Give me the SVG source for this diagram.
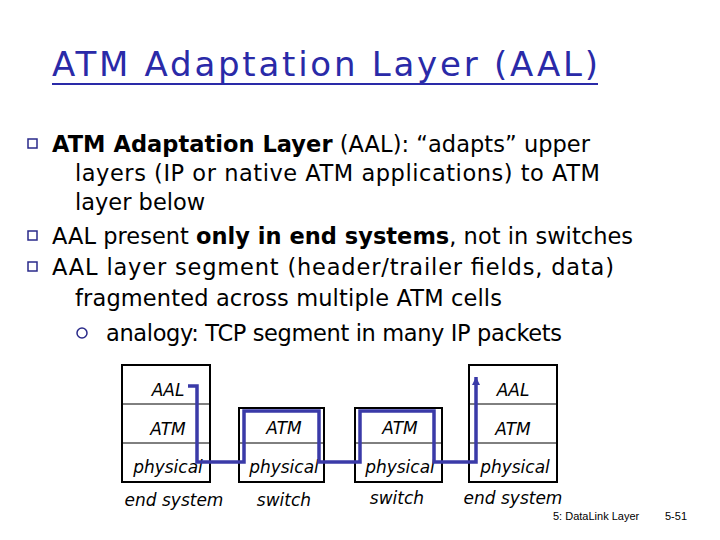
<svg xmlns="http://www.w3.org/2000/svg" width="720" height="540" viewBox="0 0 720 540">
<style>
.t{font-family:"DejaVu Sans",sans-serif;font-size:22.5px;fill:#000}
.b{font-weight:bold}
.l{font-family:"DejaVu Sans",sans-serif;font-size:17px;font-style:italic;fill:#000;text-anchor:middle}
.box{fill:none;stroke:#000;stroke-width:2}
.div{stroke:#000;stroke-width:1}
.bul{fill:none;stroke:#2a2a8a;stroke-width:1.5}
</style>
<defs><marker id="ar" markerWidth="10" markerHeight="10" refX="8" refY="4" orient="auto" markerUnits="userSpaceOnUse"><path d="M0,0 L8,4 L0,8 Z" fill="#3a3aa8"/></marker></defs>
<rect width="720" height="540" fill="#fff"/>
<g id="title"><text x="52" y="76" font-family="DejaVu Sans,sans-serif" font-size="34" fill="#2a2aa8" textLength="546">ATM Adaptation Layer (AAL)</text>
<line x1="52" y1="84" x2="598" y2="84" stroke="#2a2aa8" stroke-width="2"/></g>
<g id="bullets">
<rect x="28" y="139" width="9" height="9" class="bul"/>
<rect x="28" y="231" width="9" height="9" class="bul"/>
<rect x="28" y="262" width="9" height="9" class="bul"/>
<circle cx="82" cy="333" r="5" class="bul"/>
<text class="t" x="52" y="152" textLength="538"><tspan class="b">ATM Adaptation Layer</tspan> (AAL): “adapts” upper</text>
<text class="t" x="75" y="181" textLength="525">layers (IP or native ATM applications)  to ATM</text>
<text class="t" x="75" y="210">layer below</text>
<text class="t" x="52" y="244" textLength="581">AAL present <tspan class="b">only in end systems</tspan>, not in switches</text>
<text class="t" x="52" y="275" textLength="562">AAL layer segment (header/trailer fields, data)</text>
<text class="t" x="75" y="306" textLength="427">fragmented across multiple ATM cells</text>
<text class="t" x="106" y="341" textLength="456">analogy: TCP segment in many IP packets</text>
</g>
<g id="es1"><rect x="122" y="365" width="88" height="117" class="box"/>
<line x1="122" y1="404" x2="210" y2="404" class="div"/><line x1="122" y1="443" x2="210" y2="443" class="div"/>
<text class="l" x="168" y="396">AAL</text><text class="l" x="168" y="435">ATM</text><text class="l" x="168" y="473">physical</text>
<text class="l" x="174" y="506">end system</text></g>
<g id="sw1"><rect x="239" y="408" width="85" height="74" class="box"/>
<line x1="239" y1="443" x2="324" y2="443" class="div"/>
<text class="l" x="284" y="434">ATM</text><text class="l" x="284" y="473">physical</text>
<text class="l" x="284" y="506">switch</text></g>
<g id="sw2"><rect x="355" y="408" width="87" height="74" class="box"/>
<line x1="355" y1="443" x2="442" y2="443" class="div"/>
<text class="l" x="400" y="434">ATM</text><text class="l" x="400" y="473">physical</text>
<text class="l" x="397" y="504">switch</text></g>
<g id="es2"><rect x="469" y="365" width="88" height="117" class="box"/>
<line x1="469" y1="404" x2="557" y2="404" class="div"/><line x1="469" y1="443" x2="557" y2="443" class="div"/>
<text class="l" x="513" y="396">AAL</text><text class="l" x="513" y="435">ATM</text><text class="l" x="515" y="473">physical</text>
<text class="l" x="513" y="504">end system</text></g>
<g id="connectors"><polyline points="188,386 197,386 197,462 244,462 244,411 319,411 319,462 360,462 360,411 434,411 434,462 476,462 476,377" fill="none" stroke="#3a3aa8" stroke-width="3.5" marker-end="url(#ar)"/></g>
<g id="footer"><text x="553" y="520" font-family="Liberation Sans,sans-serif" font-size="11">5: DataLink Layer</text>
<text x="665" y="520" font-family="Liberation Sans,sans-serif" font-size="11">5-51</text></g>
</svg>
